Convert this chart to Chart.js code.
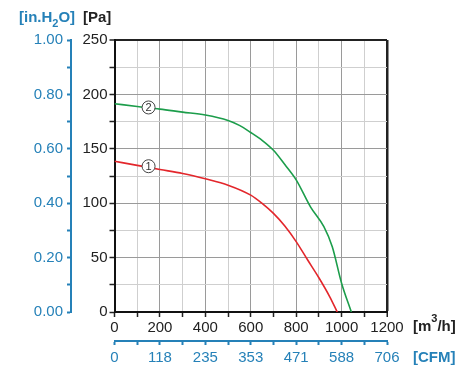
<!DOCTYPE html>
<html>
<head>
<meta charset="utf-8">
<script src="https://cdn.jsdelivr.net/npm/chart.js@4/dist/chart.umd.min.js"></script>
<style>
  html, body { margin: 0; padding: 0; background: #fff; }
  canvas { display: block; }
</style>
</head>
<body>
<canvas id="kennlinie" width="476" height="374"></canvas>
<script>
// Kennlinien (Volumenstrom m3/h -> statischer Druck Pa)
var flowRed = [0, 100, 200, 300, 400, 500, 600, 650, 700, 750, 800, 850, 900, 948, 981];
var paRed   = [138.5, 134.8, 131, 127.3, 122.4, 116.6, 107.4, 99.8, 90.6, 79, 64.7, 48, 31.5, 14, 0];

var flowGreen = [0, 100, 200, 300, 400, 500, 550, 600, 650, 700, 750, 800, 863, 922, 959, 1000, 1043];
var paGreen   = [191.4, 188.9, 186.5, 183.7, 181, 176, 171.5, 165, 157.8, 148.6, 135.5, 121.5, 96.7, 78.4, 60, 26.5, 0];

var cfmLabels = ['0', '118', '235', '353', '471', '588', '706'];
var curveNames = ['1', '2'];

var blau = '#2581b8';
var schrift = "'Liberation Sans', Arial, sans-serif";

function punkte(xs, ys) {
    return xs.map(function (x, i) { return { x: x, y: ys[i] }; });
}

function rasterFarbe(wert, haupt, max) {
    if (wert === max) return '#222';
    return wert % haupt === 0 ? '#9a9a9a' : '#cfcfcf';
}

// Beschriftungen: Achsentitel und Kurvennummern
var beschriftung = {
    id: 'beschriftung',
    afterDraw: function (chart) {
        var c = chart.ctx;
        var xs = chart.scales.x, ys = chart.scales.y;
        c.save();
        c.textBaseline = 'alphabetic';
        c.textAlign = 'left';

        // [in.H2O]
        c.fillStyle = blau;
        c.font = 'bold 15px ' + schrift;
        c.fillText('[in.H', 19, 22);
        var w = c.measureText('[in.H').width;
        c.font = 'bold 11px ' + schrift;
        c.fillText('2', 19 + w, 27);
        var w2 = c.measureText('2').width;
        c.font = 'bold 15px ' + schrift;
        c.fillText('O]', 19 + w + w2, 22);

        // [Pa]
        c.fillStyle = '#222';
        c.fillText('[Pa]', 83, 22);

        // [m3/h]
        c.fillText('[m', 413, 331);
        w = c.measureText('[m').width;
        c.font = 'bold 11px ' + schrift;
        c.fillText('3', 413 + w, 322);
        w2 = c.measureText('3').width;
        c.font = 'bold 15px ' + schrift;
        c.fillText('/h]', 413 + w + w2, 331);

        // [CFM]
        c.fillStyle = blau;
        c.fillText('[CFM]', 413, 362);

        // Kurvennummern
        var marken = [[150, 134], [150, 188]];
        marken.forEach(function (m, i) {
            var px = xs.getPixelForValue(m[0]);
            var py = ys.getPixelForValue(m[1]);
            c.beginPath();
            c.arc(px, py, 6.5, 0, Math.PI * 2);
            c.fillStyle = '#fff';
            c.fill();
            c.lineWidth = 1;
            c.strokeStyle = '#444';
            c.stroke();
            c.fillStyle = '#333';
            c.font = '11px ' + schrift;
            c.textAlign = 'center';
            c.textBaseline = 'middle';
            c.fillText(curveNames[i], px, py + 0.5);
        });
        c.restore();
    }
};

var ctx = document.getElementById('kennlinie').getContext('2d');
var kennlinie = new Chart(ctx, {
    type: 'line',
    data: {
        datasets: [{
            label: '1',
            data: punkte(flowRed, paRed),
            borderColor: '#e3262b',
            borderWidth: 1.6,
            pointRadius: 0,
            fill: false,
            cubicInterpolationMode: 'monotone'
        }, {
            label: '2',
            data: punkte(flowGreen, paGreen),
            borderColor: '#1c9d4b',
            borderWidth: 1.6,
            pointRadius: 0,
            fill: false,
            cubicInterpolationMode: 'monotone'
        }]
    },
    options: {
        responsive: false,
        devicePixelRatio: 1,
        animation: false,
        layout: { padding: { left: 10, right: 89, top: 40, bottom: 8 } },
        plugins: {
            legend: { display: false },
            tooltip: { enabled: false }
        },
        scales: {
            x: {
                type: 'linear',
                position: 'bottom',
                min: 0, max: 1200,
                afterFit: function (s) { s.height = 29; },
                ticks: {
                    stepSize: 100,
                    autoSkip: false,
                    maxRotation: 0,
                    padding: 2,
                    color: '#222',
                    font: { family: schrift, size: 15 },
                    callback: function (v) { return v % 200 === 0 ? String(v) : ''; }
                },
                grid: {
                    color: function (c) { return rasterFarbe(c.tick.value, 200, 1200); },
                    lineWidth: function (c) { return c.tick.value === 1200 ? 2.5 : 1; },
                    tickColor: '#222',
                    tickLength: 5,
                    tickWidth: 1.5
                },
                border: { color: '#111', width: 2 }
            },
            x2: {
                type: 'linear',
                position: 'bottom',
                min: 0, max: 1200,
                afterFit: function (s) { s.height = 25; },
                ticks: {
                    stepSize: 100,
                    autoSkip: false,
                    maxRotation: 0,
                    padding: 4,
                    color: blau,
                    font: { family: schrift, size: 15 },
                    callback: function (v) { return v % 200 === 0 ? cfmLabels[v / 200] : ''; }
                },
                grid: {
                    drawOnChartArea: false,
                    tickColor: blau,
                    tickLength: 4,
                    tickWidth: 2
                },
                border: { color: blau, width: 2 }
            },
            y: {
                type: 'linear',
                position: 'left',
                min: 0, max: 250,
                afterFit: function (s) { s.width = 43.5; },
                ticks: {
                    stepSize: 25,
                    autoSkip: false,
                    padding: 2,
                    color: '#222',
                    font: { family: schrift, size: 15 },
                    callback: function (v) { return v % 50 === 0 ? String(v) : ''; }
                },
                grid: {
                    color: function (c) { return rasterFarbe(c.tick.value, 50, 250); },
                    lineWidth: function (c) { return c.tick.value === 250 ? 2 : 1; },
                    tickColor: '#222',
                    tickLength: 5,
                    tickWidth: 1.5
                },
                border: { color: '#111', width: 2 }
            },
            y2: {
                type: 'linear',
                position: 'left',
                min: 0, max: 1,
                afterFit: function (s) { s.width = 61; },
                ticks: {
                    stepSize: 0.1,
                    autoSkip: false,
                    padding: 4,
                    color: blau,
                    font: { family: schrift, size: 15 },
                    callback: function (v) {
                        return Math.round(v * 10) % 2 === 0 ? v.toFixed(2) : '';
                    }
                },
                grid: {
                    drawOnChartArea: false,
                    tickColor: blau,
                    tickLength: 4,
                    tickWidth: 2
                },
                border: { color: blau, width: 2 }
            }
        }
    },
    plugins: [beschriftung]
});
</script>
</body>
</html>
